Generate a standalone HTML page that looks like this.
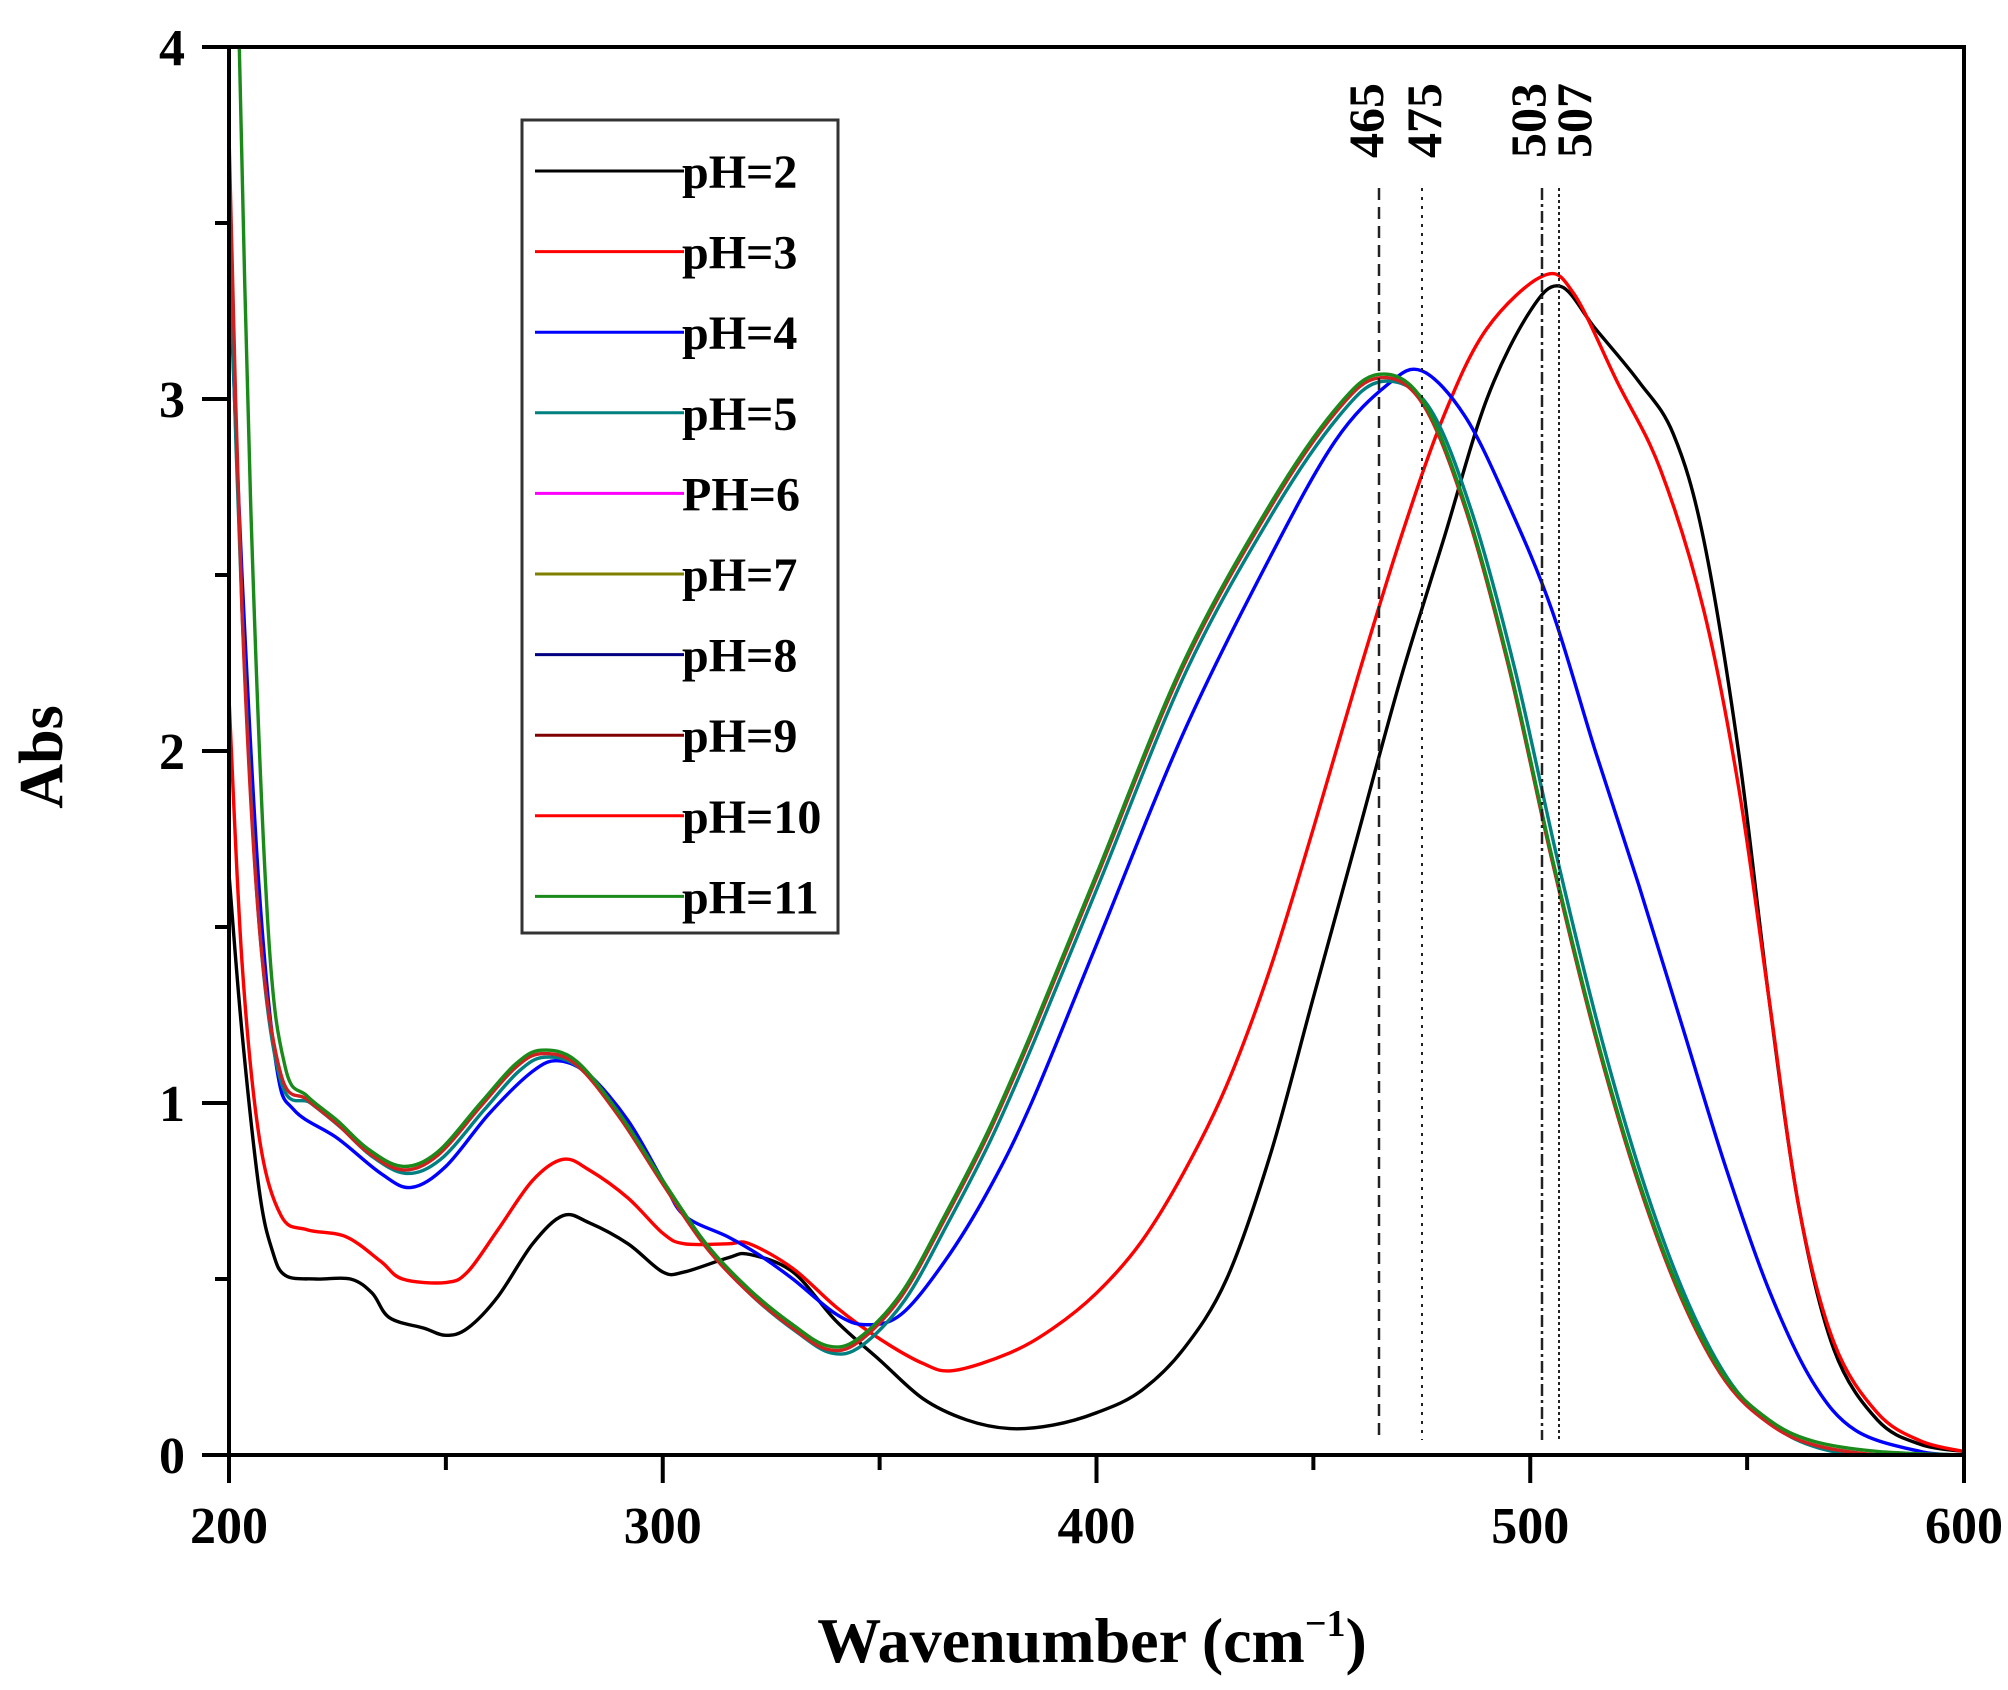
<!DOCTYPE html>
<html><head><meta charset="utf-8"><style>
html,body{margin:0;padding:0;background:#fff;}
svg text{font-family:"Liberation Serif",serif;font-weight:bold;fill:#000;}
</style></head><body>
<svg id="s" width="2008" height="1685" viewBox="0 0 2008 1685" xmlns="http://www.w3.org/2000/svg">
<defs><clipPath id="c"><rect x="229" y="47" width="1735" height="1408"/></clipPath></defs>
<rect width="2008" height="1685" fill="#fff"/>
<g id="curves" clip-path="url(#c)" fill="none" stroke-width="3.4" stroke-linejoin="round"></g>
<g stroke="#222" stroke-width="2.5">
<line x1="1379" y1="188" x2="1379" y2="1440" stroke-dasharray="12,7"/>
<line x1="1422" y1="188" x2="1422" y2="1440" stroke-dasharray="3,6" stroke-width="2"/>
<line x1="1542" y1="188" x2="1542" y2="1440" stroke-dasharray="12,4,3,4"/>
<line x1="1559" y1="188" x2="1559" y2="1440" stroke-dasharray="3,3" stroke-width="2"/>
</g>
<g font-size="50">
<text transform="translate(1383,158) rotate(-90)">465</text>
<text transform="translate(1441,158) rotate(-90)">475</text>
<text transform="translate(1545,158) rotate(-90)">503</text>
<text transform="translate(1591,158) rotate(-90)">507</text>
</g>
<rect x="229" y="47" width="1735" height="1408" fill="none" stroke="#000" stroke-width="4"/>
<g stroke="#000" stroke-width="4" id="ticks"></g>
<g font-size="52" id="labels"></g>
<text x="1092" y="1662" font-size="64" text-anchor="middle">Wavenumber (cm<tspan font-size="38" dy="-26">−1</tspan><tspan dy="26">)</tspan></text>
<text transform="translate(62,757) rotate(-90)" font-size="62" text-anchor="middle">Abs</text>
<rect x="522" y="120" width="316" height="813" fill="#fff" stroke="#333" stroke-width="3"/>
<g id="legend" font-size="48"></g>
</svg>
<script>
const X=w=>229+(w-200)*4.3375, Y=v=>1455-352*v;
const NS="http://www.w3.org/2000/svg";
function el(p,t,a,txt){const e=document.createElementNS(NS,t);for(const k in a)e.setAttribute(k,a[k]);if(txt)e.textContent=txt;document.getElementById(p).appendChild(e);return e;}
function path(pts){const P=pts.map(p=>[X(p[0]),Y(p[1])]);let d="M"+P[0][0]+","+P[0][1];
for(let i=0;i<P.length-1;i++){const p0=P[i-1]||P[i],p1=P[i],p2=P[i+1],p3=P[i+2]||p2;
d+=" C"+(p1[0]+(p2[0]-p0[0])/6)+","+(p1[1]+(p2[1]-p0[1])/6)+" "+(p2[0]-(p3[0]-p1[0])/6)+","+(p2[1]-(p3[1]-p1[1])/6)+" "+p2[0]+","+p2[1];}return d;}
const black=[[200,1.65],[203,1.2],[207,0.75],[210,0.58],[213,0.51],[220,0.5],[228,0.5],[233,0.46],[237,0.39],[245,0.36],[250,0.34],[255,0.36],[262,0.45],[270,0.6],[277,0.68],[283,0.66],[292,0.6],[300,0.52],[305,0.52],[315,0.56],[320,0.57],[330,0.52],[340,0.38],[350,0.27],[360,0.16],[370,0.1],[380,0.075],[390,0.085],[400,0.12],[410,0.18],[420,0.3],[430,0.5],[440,0.85],[450,1.3],[460,1.75],[470,2.2],[480,2.6],[490,3.0],[500,3.25],[507,3.32],[515,3.2],[525,3.05],[533,2.9],[540,2.6],[548,2.0],[555,1.3],[562,0.7],[570,0.3],[580,0.1],[590,0.03],[600,0.01]];
const red=[[200,2.15],[203,1.4],[207,0.9],[212,0.68],[218,0.64],[227,0.62],[235,0.55],[240,0.5],[250,0.49],[255,0.52],[262,0.64],[270,0.78],[277,0.84],[283,0.81],[292,0.73],[300,0.63],[305,0.6],[315,0.6],[320,0.6],[330,0.53],[340,0.42],[350,0.33],[360,0.26],[367,0.24],[380,0.29],[390,0.36],[400,0.46],[410,0.6],[420,0.8],[430,1.05],[440,1.38],[450,1.78],[460,2.2],[470,2.6],[480,2.95],[490,3.2],[503,3.35],[510,3.3],[520,3.05],[530,2.8],[540,2.4],[548,1.9],[555,1.3],[562,0.7],[570,0.32],[580,0.12],[590,0.04],[600,0.01]];
const blue=[[200,3.4],[203,2.5],[207,1.6],[211,1.1],[215,0.98],[225,0.9],[235,0.8],[242,0.76],[250,0.82],[260,0.97],[270,1.09],[276,1.12],[283,1.08],[292,0.95],[300,0.78],[305,0.68],[315,0.62],[322,0.57],[330,0.5],[340,0.4],[347,0.37],[355,0.4],[365,0.55],[375,0.75],[385,1.0],[400,1.45],[420,2.05],[440,2.55],[455,2.88],[467,3.04],[475,3.08],[485,2.95],[495,2.7],[505,2.4],[515,2.0],[525,1.62],[535,1.22],[545,0.82],[555,0.47],[565,0.21],[575,0.07],[590,0.01],[600,0]];
const grp=[[218,1.02],[225,0.95],[232,0.87],[240,0.82],[248,0.86],[258,1.0],[266,1.11],[272,1.15],[280,1.12],[290,0.97],[300,0.78],[310,0.6],[320,0.47],[330,0.37],[338,0.31],[345,0.33],[355,0.46],[365,0.68],[375,0.92],[385,1.2],[400,1.65],[420,2.25],[440,2.7],[455,2.97],[465,3.07],[475,3.0],[485,2.7],[495,2.25],[505,1.7],[515,1.2],[525,0.78],[535,0.45],[545,0.22],[555,0.1],[565,0.04],[580,0.01],[600,0]];
const green=[[202,4.2],[205,2.7],[209,1.5],[213,1.1]].concat(grp);
const red10=[[200,3.75],[203,2.4],[207,1.5],[212,1.08]].concat(grp.map(p=>[p[0],p[1]-0.01]));
const teal=[[200,3.5],[203,2.4],[207,1.5],[212,1.06]].concat(grp.map(p=>[p[0]>470?p[0]+1.5:p[0]+0.8,p[1]-0.02]));
[[black,"#000"],[red,"#f00"],[blue,"#00f"],[teal,"#008080"],[red10,"#d02020"],[green,"#1a8a1a"]].forEach(a=>el("curves","path",{d:path(a[0]),stroke:a[1]}));
for(let w=200;w<=600;w+=50){const x=X(w);el("ticks","line",{x1:x,y1:1455,x2:x,y2:w%100?1470:1483});}
for(let v=0;v<=4;v+=0.5){const y=Y(v);el("ticks","line",{x1:229,y1:y,x2:v%1?215:202,y2:y});}
for(let w=200;w<=600;w+=100)el("labels","text",{x:X(w),y:1543,"text-anchor":"middle"},String(w));
for(let v=0;v<=4;v++)el("labels","text",{x:185,y:Y(v)+18,"text-anchor":"end"},String(v));
const L=[["pH=2","#000"],["pH=3","#f00"],["pH=4","#00f"],["pH=5","#008080"],["PH=6","#f0f"],["pH=7","#808000"],["pH=8","#000080"],["pH=9","#800000"],["pH=10","#f00"],["pH=11","#1a8a1a"]];
L.forEach((l,i)=>{const y=171+i*80.6;el("legend","line",{x1:535,y1:y,x2:684,y2:y,stroke:l[1],"stroke-width":3});el("legend","text",{x:682,y:y+17},l[0]);});
</script>
</body></html>
